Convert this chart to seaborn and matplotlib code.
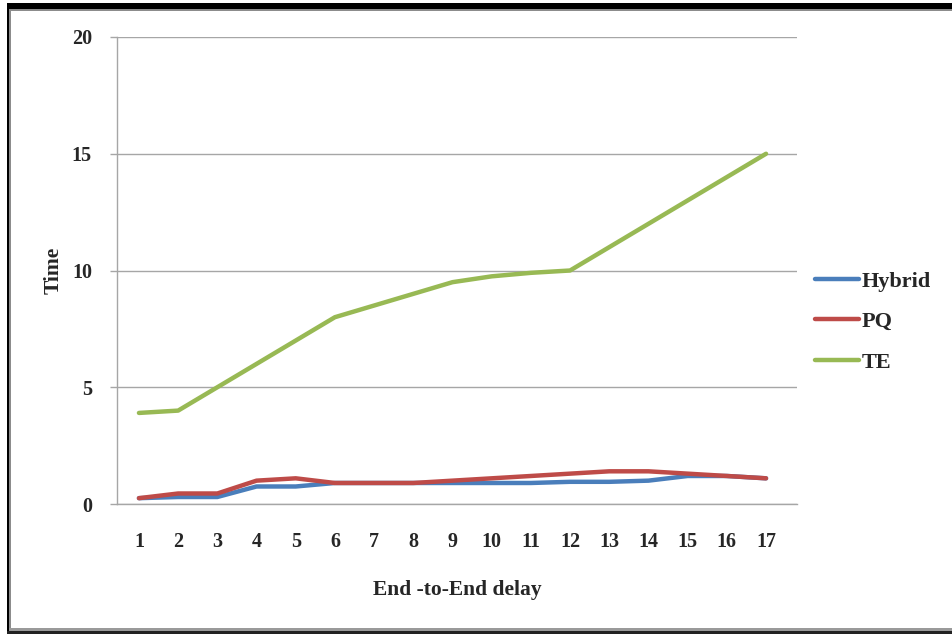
import matplotlib
matplotlib.use('Agg')
import matplotlib.pyplot as plt
from matplotlib.patches import Rectangle
import numpy as np
import pandas as pd
import seaborn as sns

# Data
delay = list(range(1, 18))
hybrid = [0.25, 0.3, 0.3, 0.75, 0.75, 0.9, 0.9, 0.9, 0.9, 0.9, 0.9, 0.95, 0.95, 1.0, 1.2, 1.2, 1.1]
pq = [0.25, 0.45, 0.45, 1.0, 1.1, 0.9, 0.9, 0.9, 1.0, 1.1, 1.2, 1.3, 1.4, 1.4, 1.3, 1.2, 1.1]
te = [3.9, 4.0, 5.0, 6.0, 7.0, 8.0, 8.5, 9.0, 9.5, 9.75, 9.9, 10.0, 11.0, 12.0, 13.0, 14.0, 15.0]
series_names = ['Hybrid', 'PQ', 'TE']
colors = ['#4A7EBB', '#BE4B48', '#98B954']
y_ticks = [0, 5, 10, 15, 20]

df = pd.DataFrame({
    'delay': delay * 3,
    'time': hybrid + pq + te,
    'series': [s for s in series_names for _ in delay],
})

sns.set_style('white')
plt.rcParams['font.family'] = ['Liberation Serif', 'DejaVu Serif']
plt.rcParams['font.weight'] = 'bold'

W, H = 953, 636
fig = plt.figure(figsize=(W / 100, H / 100), dpi=100)
ax = fig.add_axes([117 / W, 1 - 504 / H, (797 - 117) / W, (504 - 37) / H])

sns.lineplot(data=df, x='delay', y='time', hue='series', hue_order=series_names,
             palette=colors, linewidth=3.2, ax=ax, legend=True)

ax.set_xlim(0.44, 17.79)
ax.set_ylim(0, 20)
ax.set_xticks(delay)
ax.set_yticks(y_ticks)
ax.yaxis.grid(True, color='#a6a6a6', linewidth=1.0)
ax.set_axisbelow(True)
for side in ['top', 'right']:
    ax.spines[side].set_visible(False)
for side in ['left', 'bottom']:
    ax.spines[side].set_color('#a6a6a6')
    ax.spines[side].set_linewidth(1.0)
ax.tick_params(axis='y', which='major', length=5, color='#a6a6a6', width=1.0,
               labelsize=14.5, pad=13, left=True)
ax.tick_params(axis='x', which='major', length=0, labelsize=14.5, pad=20)
for lbl in ax.get_xticklabels() + ax.get_yticklabels():
    lbl.set_fontweight('bold')

ax.set_xlabel('End -to-End delay', fontsize=15.5, fontweight='bold', labelpad=20)
ax.set_ylabel('Time', fontsize=15.5, fontweight='bold', labelpad=6)

leg = ax.legend(loc='center left', bbox_to_anchor=(815 / W, 1 - 322 / H),
                bbox_transform=fig.transFigure, frameon=False,
                fontsize=16, handlelength=2.0, handletextpad=0.1,
                labelspacing=0.9, borderpad=0, borderaxespad=0)
for txt in leg.get_texts():
    txt.set_fontweight('bold')
for line in leg.get_lines():
    line.set_linewidth(3.2)

# window-like frame around the chart (pixel coordinates from top-left)
def frame_rect(x0, y0, x1, y1, color):
    fig.add_artist(Rectangle((x0 / W, 1 - y1 / H), (x1 - x0) / W, (y1 - y0) / H,
                             transform=fig.transFigure, facecolor=color,
                             edgecolor='none', zorder=10))

frame_rect(7, 3, W, 9, 'black')
frame_rect(9, 9, W, 11, '#8c8c8c')
frame_rect(7, 3, 9.5, 634, 'black')
frame_rect(9.5, 9, 11.5, 630, '#8c8c8c')
frame_rect(9, 628, W, 631, '#9a9a9a')
frame_rect(7, 631, W, 634, '#222222')

fig.savefig('out.png', dpi=100)
